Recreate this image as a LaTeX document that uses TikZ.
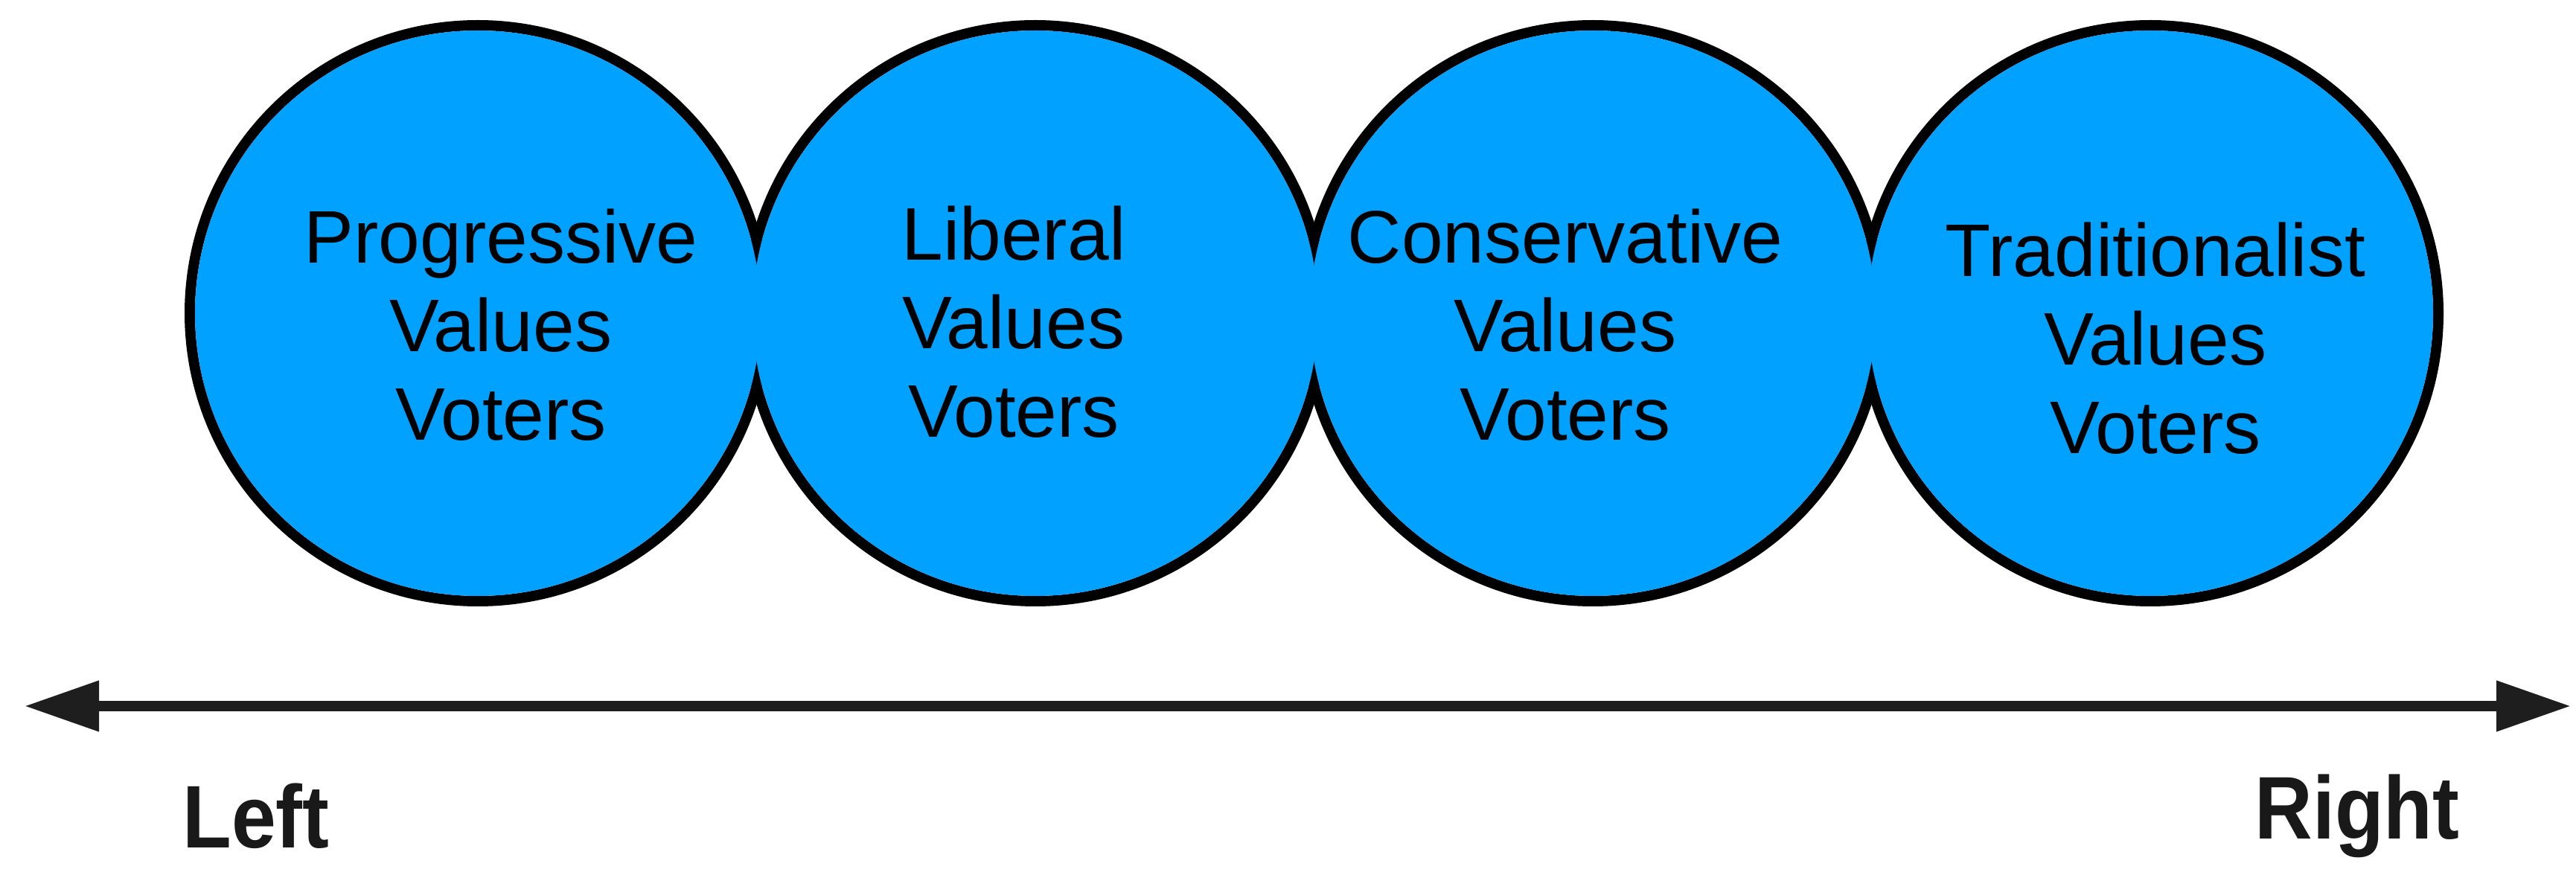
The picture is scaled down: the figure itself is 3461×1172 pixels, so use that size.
\documentclass[tikz,border=0pt]{standalone}
\usepackage{fontspec}
\setmainfont{Liberation Sans}
\usetikzlibrary{arrows.meta}
\definecolor{bub}{RGB}{0,161,255}
\definecolor{axisc}{RGB}{30,30,30}
\tikzset{
  ring/.style={circle, draw=black, line width=1.4mm, minimum size=77.4mm, inner sep=0pt},
  bubble/.style={circle, fill=bub, minimum size=76mm, inner sep=0pt},
  lbl/.style={align=center, font=\fontsize{28.5}{33.9}\selectfont, text=black, inner sep=0pt},
  side/.style={font=\bfseries\fontsize{34}{40}\selectfont, xscale=0.9, text=black!90},
  axis/.style={draw=axisc, line width=1.4mm, {Triangle[length=10mm,width=6.5mm]}-{Triangle[length=10mm,width=6.5mm]}}
}
\begin{document}
\begin{tikzpicture}[x=0.1mm,y=-0.1mm]
\useasboundingbox (0,0) rectangle (3461,1172);
% rings
\node[ring] (r1) at (642,421) {};
\node[ring] (r2) at (1391,421) {};
\node[ring] (r3) at (2140,421) {};
\node[ring] (r4) at (2889,421) {};
% fills
\node[bubble] (c1) at (r1.center) {};
\node[bubble] (c2) at (r2.center) {};
\node[bubble] (c3) at (r3.center) {};
\node[bubble] (c4) at (r4.center) {};
% labels
\node[lbl] (t1) at (673,437) {Progressive\\Values\\Voters};
\node[lbl] (t2) at (1362,433) {Liberal\\Values\\Voters};
\node[lbl] (t3) at (2103,437) {Conservative\\Values\\Voters};
\node[lbl] (t4) at (2896,455) {Traditionalist\\Values\\Voters};
% axis
\coordinate (aL) at (33,949);
\coordinate (aR) at (3454,949);
\draw[axis] (aL) -- (aR);
\node[side] (left) at (344,1097) {Left};
\node[side] (right) at (3167,1097) {Right};
\end{tikzpicture}
\end{document}
